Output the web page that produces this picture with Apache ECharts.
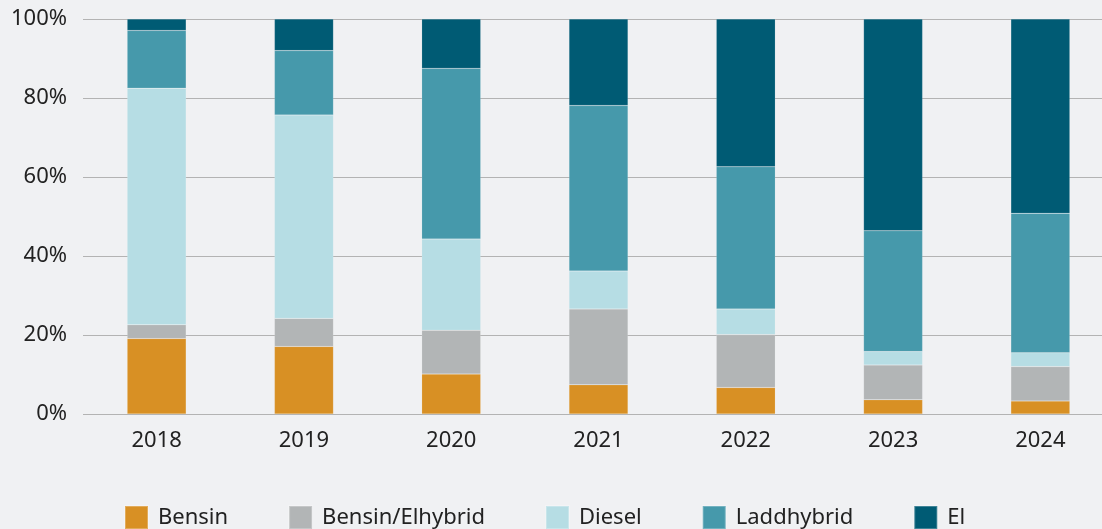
<!DOCTYPE html>
<html>
<head>
<meta charset="utf-8">
<script src="https://cdn.jsdelivr.net/npm/echarts@6/dist/echarts.min.js"></script>
<style>
html,body{margin:0;padding:0;background:#f0f1f3;}
#c{width:1102px;height:529px;}
</style>
</head>
<body>
<div id="c"></div>
<script>
const categories = ['2018','2019','2020','2021','2022','2023','2024'];
const seriesNames = ['Bensin','Bensin/Elhybrid','Diesel','Laddhybrid','El'];
const bensin = [19.1, 17.1, 10.1, 7.4, 6.7, 3.6, 3.3];
const bensinElhybrid = [3.5, 7.1, 11.1, 19.2, 13.4, 8.8, 8.7];
const diesel = [59.9, 51.5, 23.1, 9.6, 6.5, 3.4, 3.5];
const laddhybrid = [14.6, 16.3, 43.2, 41.9, 36.0, 30.6, 35.3];
const el = [2.9, 8.0, 12.5, 21.9, 37.4, 53.6, 49.2];
const yTicks = [0, 20, 40, 60, 80, 100];

const colors = ['#d89024','#b2b5b6','#b6dde4','#4699ab','#005b74'];
const values = [bensin, bensinElhybrid, diesel, laddhybrid, el];

const chart = echarts.init(document.getElementById('c'));
const font = '"Noto Sans", sans-serif';
chart.setOption({
  backgroundColor: '#f0f1f3',
  animation: false,
  grid: {left: 83, width: 1031, top: 19, bottom: 115, containLabel: false, outerBoundsMode: 'none'},
  legend: {
    left: 124, top: 505, padding: 0, itemWidth: 23, itemHeight: 23, itemGap: 60,
    icon: 'rect',
    textStyle: {fontFamily: font, fontSize: 22, color: '#222', padding: [0,0,0,5]},
    data: seriesNames
  },
  xAxis: {
    type: 'category', data: categories,
    axisLine: {show: false}, axisTick: {show: false},
    axisLabel: {fontFamily: font, fontSize: 22, color: '#222', margin: 16}
  },
  yAxis: {
    type: 'value', min: yTicks[0], max: yTicks[yTicks.length-1], interval: 20,
    axisLine: {show: false}, axisTick: {show: false},
    axisLabel: {fontFamily: font, fontSize: 22, color: '#222', margin: 16, formatter: '{value}%'},
    splitLine: {lineStyle: {color: '#b3b3b3', width: 1}}
  },
  series: values.map((v, i) => ({
    name: seriesNames[i], type: 'bar', stack: 'total', data: v,
    barWidth: 59,
    itemStyle: {color: colors[i], borderColor: 'rgba(255,255,255,0.25)', borderWidth: 0.5}
  }))
});
</script>
</body>
</html>
